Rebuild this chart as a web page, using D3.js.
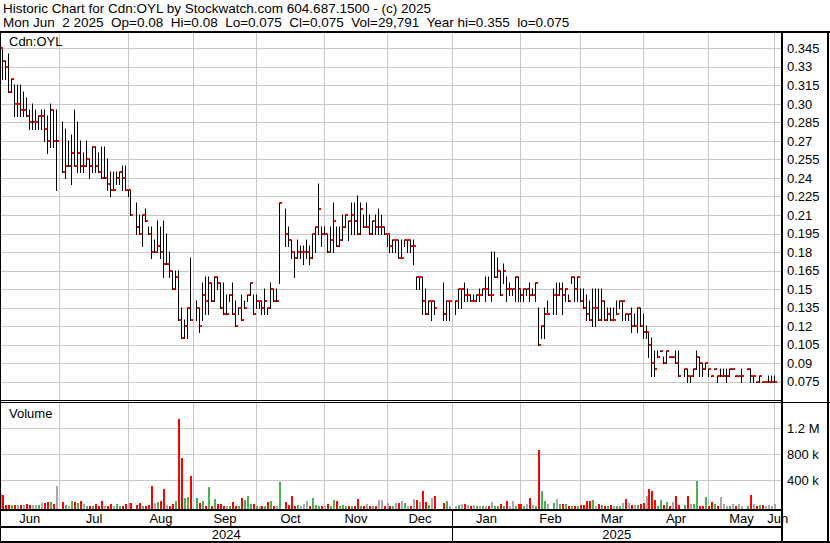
<!DOCTYPE html>
<html>
<head>
<meta charset="utf-8">
<script src="https://cdn.jsdelivr.net/npm/d3@7"></script>
<style>
  body { margin: 0; background: #fff; }
  svg text { font-family: Arial, "Liberation Sans", sans-serif; fill: #000; white-space: pre; }
</style>
</head>
<body>
<div id="chart"></div>
<script>
// Chart text
const titleLine = "Historic Chart for Cdn:OYL by Stockwatch.com 604.687.1500 - (c) 2025";
const infoLine = "Mon Jun  2 2025  Op=0.08  Hi=0.08  Lo=0.075  Cl=0.075  Vol=29,791  Year hi=0.355  lo=0.075";
const symbol = "Cdn:OYL";

// Trading calendar (weekdays, market holidays have no bar)
const firstDay = "2024-06-03";
const lastDay = "2025-06-02";
const holidays = ["2024-07-01", "2024-08-05", "2024-09-02", "2024-10-14", "2024-12-25",
  "2024-12-26", "2025-01-01", "2025-02-17", "2025-04-18", "2025-05-19"];
const monthNames = ["Jan", "Feb", "Mar", "Apr", "May", "Jun", "Jul", "Aug", "Sep", "Oct", "Nov", "Dec"];

// Axis ticks
const priceTicks = [0.075, 0.09, 0.105, 0.12, 0.135, 0.15, 0.165, 0.18, 0.195, 0.21,
  0.225, 0.24, 0.255, 0.27, 0.285, 0.30, 0.315, 0.33, 0.345];
const priceTickLabels = ["0.075", "0.09", "0.105", "0.12", "0.135", "0.15", "0.165", "0.18", "0.195", "0.21",
  "0.225", "0.24", "0.255", "0.27", "0.285", "0.30", "0.315", "0.33", "0.345"];
const volTicks = [400, 800, 1200];
const volTickLabels = ["400 k", "800 k", "1.2 M"];

// Daily values, one per weekday (null = holiday)
const highs = [
  .355,.345,.335,.34,.32,.315,.315,.315,.31,.305, .295,.30,.295,.29,.295,.295,.29,.30,.295,.295,
  null,.285,.28,.27,.275,.295,.285,.27,.26,.27, .255,.265,.265,.26,.265,.265,.255,.245,.245,.245,
  .245,.25,.25,.23,.23,null,.22,.21,.21,.215, .20,.20,.19,.205,.20,.205,.195,.18,.165,.165,
  .165,.135,.125,.135,.175,null,.14,.135,.155,.16, .16,.155,.16,.16,.155,.155,.145,.145,.155,.14,
  .135,.145,.14,.145,.155,.145,.145,.14,.14,.15, .135,.155,.15,.15,.22,null,.215,.20,.19,.18,
  .19,.185,.185,.19,.185,.195,.20,.235,.20,.20, .195,.20,.22,.20,.20,.21,.21,.205,.22,.22,
  .225,.22,.21,.22,.21,.205,.21,.215,.21,.20, .195,.195,.19,.19,.19,.19,.19,.19,.19,.19,
  .16,.16,.16,.15,.14,.14,.14,null,null,.155, .14,.14,null,.14,.15,.15,.155,.15,.145,.145,
  .145,.15,.15,.16,.16,.18,.18,.175,.165,.17, .16,.155,.15,.16,.16,.15,.15,.15,.155,.15,
  .155,.135,.12,.135,.14,null,.15,.155,.155,.155, .15,.145,.16,.16,.16,.15,.15,.145,.14,.15,
  .15,.15,.15,.14,.135,.135,.135,.14,.14,.14, .13,.13,.135,.13,.135,.135,.13,.12,.115,.11,
  .10,.10,.10,.095,.10,.095,.095,.10,.10,null, .085,.085,.08,.085,.10,.095,.09,.09,.085,.08,
  .085,.08,.085,.085,.085,.085,.085,.08,.08,.085, null,.085,.085,.08,.075,.08,.075,.075,.08,.08,
  .08
];
const lows = [
  .315,.32,.32,.31,.31,.29,.29,.29,.29,.29, .28,.28,.28,.28,.28,.27,.26,.265,.265,.23,
  null,.245,.24,.25,.235,.25,.245,.245,.245,.25, .24,.245,.245,.245,.24,.24,.23,.225,.23,.235,
  .235,.23,.23,.225,.21,null,.195,.195,.185,.205, .195,.175,.18,.18,.175,.16,.17,.16,.15,.15,
  .125,.11,.11,.11,.125,null,.125,.115,.125,.13, .13,.14,.14,.15,.135,.13,.13,.14,.13,.12,
  .13,.125,.135,.14,.145,.13,.135,.135,.13,.13, .13,.135,.14,.14,.155,null,.185,.185,.175,.16,
  .175,.175,.17,.175,.17,.175,.18,.195,.185,.195, .18,.18,.18,.185,.185,.19,.20,.19,.195,.195,
  .195,.195,.20,.20,.195,.195,.195,.195,.195,.195, .185,.18,.18,.18,.175,.175,.185,.18,.18,.17,
  .15,.15,.13,.13,.13,.125,.13,null,null,.125, .125,.125,null,.13,.135,.135,.14,.14,.14,.14,
  .14,.14,.145,.14,.145,.14,.16,.16,.145,.155, .14,.145,.145,.14,.14,.14,.14,.145,.14,.145,
  .14,.105,.11,.11,.13,null,.13,.13,.145,.13, .14,.14,.155,.14,.14,.14,.135,.125,.125,.12,
  .12,.125,.125,.125,.125,.125,.125,.13,.135,.125, .125,.125,.115,.12,.115,.12,.11,.11,.095,.08,
  .08,.095,.10,.09,.09,.095,.095,.09,.08,null, .08,.075,.075,.08,.085,.08,.08,.085,.08,.08,
  .085,.075,.08,.08,.075,.08,.085,.08,.08,.075, null,.085,.075,.075,.075,.075,.075,.075,.075,.075,
  .075
];
const closes = [
  .345,.335,.33,.31,.32,.30,.30,.295,.295,.29, .285,.285,.285,.29,.29,.28,.27,.295,.27,.27,
  null,.245,.25,.25,.26,.25,.26,.25,.25,.255, .25,.265,.25,.245,.24,.24,.235,.23,.23,.24,
  .245,.24,.23,.23,.21,null,.20,.195,.21,.205, .195,.18,.18,.185,.18,.17,.17,.165,.15,.16,
  .125,.11,.12,.135,.125,null,.135,.12,.145,.14, .155,.14,.16,.155,.135,.13,.13,.145,.13,.12,
  .135,.125,.135,.145,.155,.13,.14,.14,.135,.14, .135,.15,.14,.14,.22,null,.195,.19,.18,.175,
  .18,.18,.18,.18,.175,.195,.20,.215,.195,.195, .18,.19,.205,.185,.19,.20,.21,.205,.21,.205,
  .195,.215,.20,.20,.195,.205,.20,.20,.20,.195, .195,.185,.19,.19,.175,.175,.19,.19,.185,.185,
  .16,.16,.14,.13,.14,.14,.135,null,null,.13, .14,.14,null,.14,.15,.15,.145,.145,.14,.14,
  .145,.145,.15,.15,.145,.145,.16,.165,.145,.165, .15,.15,.15,.16,.15,.145,.15,.15,.145,.145,
  .155,.105,.12,.13,.13,null,.145,.145,.15,.145, .15,.14,.16,.15,.16,.14,.135,.13,.125,.135,
  .135,.125,.14,.125,.13,.125,.125,.13,.14,.14, .13,.13,.12,.12,.135,.12,.115,.115,.105,.09,
  .085,.095,.10,.09,.10,.095,.095,.09,.08,null, .085,.08,.08,.085,.095,.09,.085,.09,.085,.08,
  .085,.08,.08,.08,.08,.085,.085,.08,.08,.08, null,.085,.08,.08,.075,.08,.075,.075,.075,.075,
  .075
];
// volume in thousands of shares
const volumesK = [
  200,170,15,15,8,20,10,15,15,30, 15,10,8,15,50,40,60,60,30,300,
  null,60,14,3,76,60,40,76,29,5, 5,3,25,3,76,5,5,25,5,29,
  3,3,29,40,40,null,14,40,5,3, 14,308,40,60,76,262,14,5,29,76,
  1347,742,117,138,463,null,117,40,76,5, 298,3,107,29,29,3,3,0,60,3,
  0,122,91,153,29,29,5,3,5,3, 60,76,3,0,370,null,60,14,153,3,
  14,5,29,76,3,122,14,5,3,0, 29,5,91,76,3,14,5,3,5,0,
  107,3,5,29,3,5,3,91,91,3, 40,5,3,40,40,76,40,3,5,107,
  91,60,230,60,14,122,153,null,null,40, 76,0,null,0,14,25,25,14,3,14,
  3,3,5,3,3,60,5,5,25,3, 76,3,76,0,29,35,0,29,122,10,
  5,870,230,76,29,null,40,107,25,25, 25,3,5,3,0,14,10,76,76,91,
  3,29,14,3,3,10,0,0,3,50, 107,40,10,10,10,25,40,153,262,230,
  91,3,91,14,60,3,60,153,10,null, 14,150,25,29,380,3,3,140,3,60,
  29,3,140,29,0,3,25,0,29,0, null,0,170,29,3,14,14,3,14,5,
  30
];

// Build weekday list
const parseDay = d3.utcParse("%Y-%m-%d");
const fmtDay = d3.utcFormat("%Y-%m-%d");
const days = d3.utcDays(parseDay(firstDay), d3.utcDay.offset(parseDay(lastDay), 1))
  .filter(d => d.getUTCDay() !== 0 && d.getUTCDay() !== 6);

const bars = days.map((d, i) => ({
  date: d, key: fmtDay(d), holiday: holidays.includes(fmtDay(d)),
  high: highs[i], low: lows[i], close: closes[i], vol: volumesK[i]
}));
// colour by close vs previous traded close
let prevClose = null;
bars.forEach(b => {
  if (b.close == null) return;
  b.dir = prevClose == null ? 0 : Math.sign(Math.round((b.close - prevClose) * 1000));
  prevClose = b.close;
});
const traded = bars.filter(b => b.close != null);

// Layout
const W = 830, H = 543;
const plotRight = 781;
const priceTop = 32, priceBottom = 400;
const volTop = 403, volBottom = 509;

const svg = d3.select("#chart").append("svg")
  .attr("width", W).attr("height", H)
  .style("display", "block");

const x = d3.scaleBand()
  .domain(bars.map(b => b.key))
  .range([0, 777]);

const yPrice = d3.scaleLinear().domain([0.075, 0.345]).range([381.7, 48.3]);
const yVol = d3.scaleLinear().domain([0, 1200]).range([505.9, 428.3]);

const gridColor = "#c8c8c8";

// month boundaries
const monthStarts = [];
bars.forEach((b, i) => {
  if (i === 0 || b.date.getUTCMonth() !== bars[i - 1].date.getUTCMonth()) monthStarts.push(b);
});
const gridX = b => Math.floor(x(b.key)) + 0.5;

// vertical gridlines
svg.append("g").selectAll("line")
  .data(monthStarts.slice(1))
  .join("line")
  .attr("x1", gridX).attr("x2", gridX)
  .attr("y1", priceTop).attr("y2", volBottom)
  .attr("stroke", gridColor);

// horizontal price grid via axis
const priceGrid = svg.append("g")
  .attr("transform", "translate(1,0)")
  .call(d3.axisRight(yPrice).tickValues(priceTicks).tickSize(plotRight - 1).tickFormat(""));
priceGrid.select(".domain").remove();
priceGrid.selectAll("line").attr("stroke", gridColor).attr("shape-rendering", "crispEdges");

const volGrid = svg.append("g")
  .attr("transform", "translate(1,0)")
  .call(d3.axisRight(yVol).tickValues(volTicks).tickSize(plotRight - 1).tickFormat(""));
volGrid.select(".domain").remove();
volGrid.selectAll("line").attr("stroke", gridColor).attr("shape-rendering", "crispEdges");

// price bars
const barX = b => Math.floor(x(b.key)) + 0.5;
svg.append("g").selectAll("line")
  .data(traded)
  .join("line")
  .attr("x1", barX).attr("x2", barX)
  .attr("y1", b => Math.round(yPrice(b.high)) - 0.5)
  .attr("y2", b => Math.round(yPrice(b.low)) + 1)
  .attr("stroke", "#000");

svg.append("g").selectAll("rect")
  .data(traded)
  .join("rect")
  .attr("x", b => Math.floor(x(b.key)) + 1)
  .attr("y", b => Math.round(yPrice(b.close)) - 1)
  .attr("width", 2).attr("height", 2)
  .attr("fill", "#ff0000");

// volume bars
const volColor = { "1": "#4cb050", "-1": "#ff0000", "0": "#a8a8a8" };
svg.append("g").selectAll("rect")
  .data(traded.filter(b => b.vol != null))
  .join("rect")
  .attr("x", b => Math.floor(x(b.key)))
  .attr("y", b => Math.round(yVol(b.vol)))
  .attr("width", 2)
  .attr("height", b => volBottom - Math.round(yVol(b.vol)))
  .attr("fill", b => volColor[b.dir]);

// frame lines
const frame = svg.append("g").attr("stroke", "#000").attr("shape-rendering", "crispEdges");
frame.append("line").attr("x1", 0).attr("x2", W).attr("y1", 31.5).attr("y2", 31.5).attr("stroke-width", 2);
frame.append("line").attr("x1", 0.5).attr("x2", 0.5).attr("y1", 31).attr("y2", H);
frame.append("line").attr("x1", 828).attr("x2", 828).attr("y1", 31).attr("y2", H).attr("stroke-width", 2);
frame.append("line").attr("x1", 782).attr("x2", 782).attr("y1", 31).attr("y2", H).attr("stroke-width", 2);
frame.append("line").attr("x1", 0).attr("x2", 782).attr("y1", 400.5).attr("y2", 400.5);
frame.append("line").attr("x1", 0).attr("x2", W).attr("y1", 402.5).attr("y2", 402.5);
frame.append("line").attr("x1", 0).attr("x2", 782).attr("y1", 510).attr("y2", 510).attr("stroke-width", 2);
frame.append("line").attr("x1", 0).attr("x2", 782).attr("y1", 527).attr("y2", 527).attr("stroke-width", 2);
frame.append("line").attr("x1", 0).attr("x2", W).attr("y1", 542).attr("y2", 542).attr("stroke-width", 2);

// year separator
const yearStarts = monthStarts.filter(b => b.date.getUTCMonth() === 0);
frame.selectAll(".yearsep")
  .data(yearStarts)
  .join("line")
  .attr("x1", gridX).attr("x2", gridX)
  .attr("y1", 510).attr("y2", 542)
  .attr("stroke-width", 1.5);

// right axes
const priceAxis = svg.append("g")
  .attr("transform", `translate(${plotRight + 1},0)`)
  .call(d3.axisRight(yPrice).tickValues(priceTicks).tickSize(0).tickPadding(5)
    .tickFormat((d, i) => priceTickLabels[i]));
priceAxis.select(".domain").remove();
priceAxis.selectAll("text").attr("font-size", 13).attr("font-family", null);

const volAxis = svg.append("g")
  .attr("transform", `translate(${plotRight + 1},0)`)
  .call(d3.axisRight(yVol).tickValues(volTicks).tickSize(0).tickPadding(5)
    .tickFormat((d, i) => volTickLabels[i]));
volAxis.select(".domain").remove();
volAxis.selectAll("text").attr("font-size", 13).attr("font-family", null);

// month labels
svg.append("g").selectAll("text")
  .data(monthStarts)
  .join("text")
  .attr("x", (b, i) => {
    const x0 = i === 0 ? 0 : gridX(b);
    const x1 = i < monthStarts.length - 1 ? gridX(monthStarts[i + 1]) : plotRight;
    return (x0 + x1) / 2;
  })
  .attr("y", 523)
  .attr("text-anchor", "middle")
  .attr("font-size", 13)
  .text(b => monthNames[b.date.getUTCMonth()]);

// year labels
const yearEdges = [0, ...yearStarts.map(gridX), plotRight];
svg.append("g").selectAll("text")
  .data(d3.pairs(yearEdges))
  .join("text")
  .attr("x", d => (d[0] + d[1]) / 2)
  .attr("y", 539)
  .attr("text-anchor", "middle")
  .attr("font-size", 13)
  .text((d, i) => bars[0].date.getUTCFullYear() + i);

// header and panel titles
svg.append("text").attr("x", 3).attr("y", 13).attr("font-size", 13.5).text(titleLine);
svg.append("text").attr("x", 3).attr("y", 27).attr("font-size", 13.5).text(infoLine);
svg.append("text").attr("x", 9).attr("y", 46).attr("font-size", 13).text(symbol);
svg.append("text").attr("x", 9).attr("y", 418).attr("font-size", 13).text("Volume");
</script>
</body>
</html>
